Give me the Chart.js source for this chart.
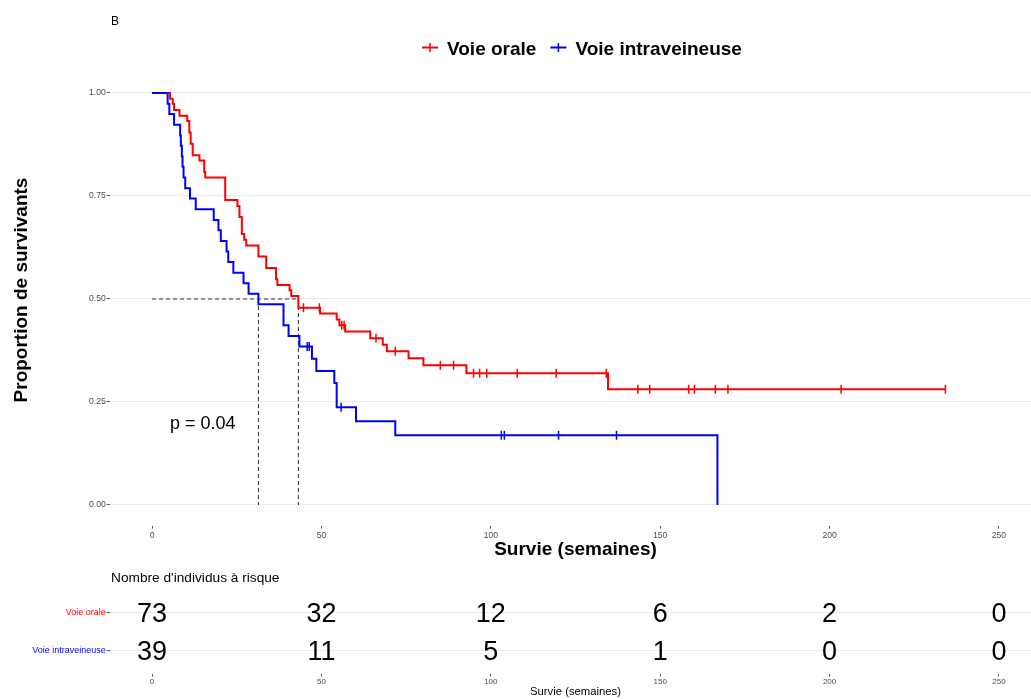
<!DOCTYPE html>
<html><head><meta charset="utf-8">
<script src="https://cdn.jsdelivr.net/npm/chart.js@4.4.1/dist/chart.umd.min.js"></script>
<style>
html,body{margin:0;padding:0;background:#fff;overflow:hidden}
#wrap{position:relative;width:1031px;height:699px;overflow:hidden;background:#fff}
#km{position:absolute;left:0;top:0}
#risk{position:absolute;left:0;top:560px}
</style></head><body>
<div id="wrap"><canvas id="km" width="1042" height="560"></canvas><canvas id="risk" width="1042" height="139"></canvas></div>
<script>
const FONT = "'Liberation Sans', Arial, Helvetica, sans-serif";
const groups = ['Voie orale', 'Voie intraveineuse'];
const groupColors = ['#ff0000', '#0000ff'];
const xTicks = [0, 50, 100, 150, 200, 250];
const yTicks = [0, 0.25, 0.5, 0.75, 1];

// Voie orale (red)
const redTimes = [0, 5.3, 6.1, 6.5, 8.1, 10.4, 11.0, 11.4, 12.0, 14.0, 15.4, 15.7, 21.6, 25.2, 25.8, 26.5, 27.2, 27.8, 31.4, 33.7, 36.6, 37.0, 40.6, 41.1, 43.2, 49.6, 54.5, 55.3, 57.0, 64.4, 68.1, 69.3, 75.7, 80.1, 92.8, 134.6, 234.2];
const redSurv  = [1, 0.986, 0.973, 0.959, 0.945, 0.932, 0.904, 0.877, 0.849, 0.836, 0.808, 0.795, 0.740, 0.726, 0.699, 0.658, 0.644, 0.630, 0.603, 0.575, 0.548, 0.534, 0.521, 0.507, 0.479, 0.465, 0.450, 0.436, 0.421, 0.405, 0.389, 0.373, 0.356, 0.339, 0.320, 0.281, 0.281];
const redCensor = [44.7, 49.4, 56.0, 56.7, 66.1, 71.8, 85.1, 89.0, 94.9, 96.7, 98.8, 107.8, 119.3, 134.1, 143.4, 146.9, 158.4, 160.1, 166.3, 170.0, 203.4, 234.2];

// Voie intraveineuse (blue)
const blueTimes = [0, 4.6, 5.1, 6.5, 8.3, 8.5, 8.8, 9.0, 9.3, 9.8, 11.2, 12.9, 18.2, 19.6, 20.3, 22.0, 22.5, 24.0, 27.0, 28.5, 31.4, 38.8, 40.3, 43.5, 47.2, 48.5, 53.8, 54.5, 60.2, 71.8, 166.9];
const blueSurv  = [1, 0.974, 0.949, 0.923, 0.897, 0.872, 0.846, 0.821, 0.795, 0.769, 0.744, 0.718, 0.692, 0.667, 0.641, 0.615, 0.590, 0.564, 0.538, 0.513, 0.487, 0.436, 0.410, 0.385, 0.355, 0.325, 0.296, 0.237, 0.203, 0.169, 0];
const blueCensor = [45.8, 46.4, 55.8, 103.1, 104.0, 120.0, 137.1];

const medianTimes = [43.2, 31.4];
const pValueText = 'p = 0.04';

const riskTimes = [0, 50, 100, 150, 200, 250];
const riskOral = [73, 32, 12, 6, 2, 0];
const riskIV = [39, 11, 5, 1, 0, 0];

function stepPoints(t, s) { return t.map((x, i) => ({ x: x, y: s[i] })); }
function survAt(t, s, x) { let v = s[0]; for (let i = 0; i < t.length; i++) { if (t[i] <= x) v = s[i]; } return v; }

function curveDs(label, t, s, color, order) {
  return { type: 'line', label, data: stepPoints(t, s), borderColor: color, borderWidth: 2,
    stepped: 'before', pointRadius: 0, fill: false, order: order };
}
function censorDs(label, c, t, s, color, order) {
  return { type: 'scatter', label, data: c.map(x => ({ x: x, y: survAt(t, s, x) })),
    pointStyle: 'line', pointRotation: 90, pointRadius: 4.5, pointBorderWidth: 1.5,
    pointBorderColor: color, pointBackgroundColor: color, showLine: false, order: order };
}
function dashDs(pts) {
  return { type: 'line', label: 'median', data: pts, borderColor: '#333', borderWidth: 1,
    borderDash: [4, 3], pointRadius: 0, fill: false, order: 10 };
}
const maxMed = Math.max.apply(null, medianTimes);
const dashSets = [dashDs([{ x: 0, y: 0.5 }, { x: maxMed, y: 0.5 }])]
  .concat(medianTimes.map(m => dashDs([{ x: m, y: 0.5 }, { x: m, y: 0 }])));

const kmText = {
  id: 'kmText',
  afterDraw(chart) {
    const { ctx, chartArea: a, scales: { x, y } } = chart;
    ctx.save();
    ctx.fillStyle = '#000';
    ctx.textBaseline = 'alphabetic';
    ctx.font = '12px ' + FONT; ctx.textAlign = 'left';
    ctx.fillText('B', 111, 25);
    ctx.font = 'bold 19px ' + FONT;
    let cx = 422; const ly = 47.5;
    groups.forEach((g, i) => {
      ctx.strokeStyle = groupColors[i]; ctx.lineWidth = 2;
      ctx.beginPath(); ctx.moveTo(cx, ly); ctx.lineTo(cx + 16, ly); ctx.stroke();
      ctx.lineWidth = 1.5;
      ctx.beginPath(); ctx.moveTo(cx + 8, ly - 4.5); ctx.lineTo(cx + 8, ly + 4.5); ctx.stroke();
      ctx.fillStyle = '#000'; ctx.textAlign = 'left';
      ctx.fillText(g, cx + 25, 55.3);
      cx += 25 + ctx.measureText(g).width + 14;
    });
    ctx.save(); ctx.translate(27, 290); ctx.rotate(-Math.PI / 2);
    ctx.textAlign = 'center'; ctx.fillText('Proportion de survivants', 0, 0); ctx.restore();
    ctx.textAlign = 'center';
    ctx.fillText('Survie (semaines)', (a.left + a.right) / 2, 555);
    ctx.font = '18px ' + FONT; ctx.textAlign = 'left';
    ctx.fillText(pValueText, x.getPixelForValue(5.3), y.getPixelForValue(0.185));
    ctx.restore();
  }
};

new Chart(document.getElementById('km'), {
  type: 'line',
  data: {
    datasets: [
      curveDs(groups[1], blueTimes, blueSurv, groupColors[1], 0),
      censorDs(groups[1] + ' censure', blueCensor, blueTimes, blueSurv, groupColors[1], 0),
      curveDs(groups[0], redTimes, redSurv, groupColors[0], 1),
      censorDs(groups[0] + ' censure', redCensor, redTimes, redSurv, groupColors[0], 1)
    ].concat(dashSets)
  },
  options: {
    responsive: false, animation: false,
    layout: { autoPadding: false, padding: { top: 72.4, right: 0.7, bottom: 0, left: 0 } },
    plugins: { legend: { display: false }, tooltip: { enabled: false } },
    scales: {
      x: {
        type: 'linear', min: -12.5, max: 262.5,
        afterBuildTicks: s => { s.ticks = xTicks.map(v => ({ value: v })); },
        afterFit: s => { s.height = 34.4; },
        grid: { drawOnChartArea: false, drawTicks: true, tickLength: 3, tickColor: '#555', tickWidth: 1 },
        border: { display: false },
        ticks: { font: { family: FONT, size: 8.6 }, color: '#4d4d4d', padding: 2, maxRotation: 0, autoSkip: false, callback: v => String(v) }
      },
      y: {
        type: 'linear', min: -0.05, max: 1.05,
        afterBuildTicks: s => { s.ticks = yTicks.map(v => ({ value: v })); },
        afterFit: s => { s.width = 109.7; },
        grid: { color: '#ebebeb', lineWidth: 1.1, drawTicks: true, tickLength: 3, tickColor: '#555', tickWidth: 1 },
        border: { display: false },
        ticks: { font: { family: FONT, size: 8.6 }, color: '#4d4d4d', padding: 1, callback: v => Number(v).toFixed(2) }
      }
    }
  },
  plugins: [kmText]
});

const riskText = {
  id: 'riskText',
  afterDatasetsDraw(chart) {
    const { ctx, chartArea: a } = chart;
    ctx.save();
    ctx.fillStyle = '#000'; ctx.textBaseline = 'alphabetic';
    ctx.font = '27px ' + FONT; ctx.textAlign = 'center';
    chart.data.datasets.forEach((ds, d) => {
      const meta = chart.getDatasetMeta(d);
      meta.data.forEach((pt, i) => { ctx.fillText(String(ds.counts[i]), pt.x, pt.y + 9.7); });
    });
    ctx.font = '13.7px ' + FONT; ctx.textAlign = 'left';
    ctx.fillText("Nombre d'individus à risque", 111, 22);
    ctx.font = '11.3px ' + FONT; ctx.textAlign = 'center';
    ctx.fillText('Survie (semaines)', (a.left + a.right) / 2, 135);
    ctx.restore();
  }
};

new Chart(document.getElementById('risk'), {
  type: 'scatter',
  data: {
    datasets: [riskOral, riskIV].map((row, r) => ({
      label: groups[r], counts: row,
      data: riskTimes.map(t => ({ x: t, y: r + 1 })),
      pointRadius: 0, showLine: false
    }))
  },
  options: {
    responsive: false, animation: false,
    layout: { autoPadding: false, padding: { top: 29.9, right: 0.7, bottom: 0, left: 0 } },
    plugins: { legend: { display: false }, tooltip: { enabled: false } },
    scales: {
      x: {
        type: 'linear', min: -12.5, max: 262.5,
        afterBuildTicks: s => { s.ticks = xTicks.map(v => ({ value: v })); },
        afterFit: s => { s.height = 25.5; },
        grid: { drawOnChartArea: false, drawTicks: true, tickLength: 3, tickColor: '#555', tickWidth: 1 },
        border: { display: false },
        ticks: { font: { family: FONT, size: 8 }, color: '#4d4d4d', padding: 0.5, maxRotation: 0, autoSkip: false, callback: v => String(v) }
      },
      y: {
        type: 'linear', reverse: true, min: 0.4, max: 2.6,
        afterBuildTicks: s => { s.ticks = [1, 2].map(v => ({ value: v })); },
        afterFit: s => { s.width = 109.7; },
        grid: { color: '#ebebeb', lineWidth: 1.1, drawTicks: true, tickLength: 3, tickColor: '#555', tickWidth: 1 },
        border: { display: false },
        ticks: { font: { family: FONT, size: 9 }, padding: 1,
          color: c => groupColors[(c.tick ? c.tick.value : 1) - 1] || '#4d4d4d',
          callback: v => groups[v - 1] }
      }
    }
  },
  plugins: [riskText]
});
</script></body></html>
